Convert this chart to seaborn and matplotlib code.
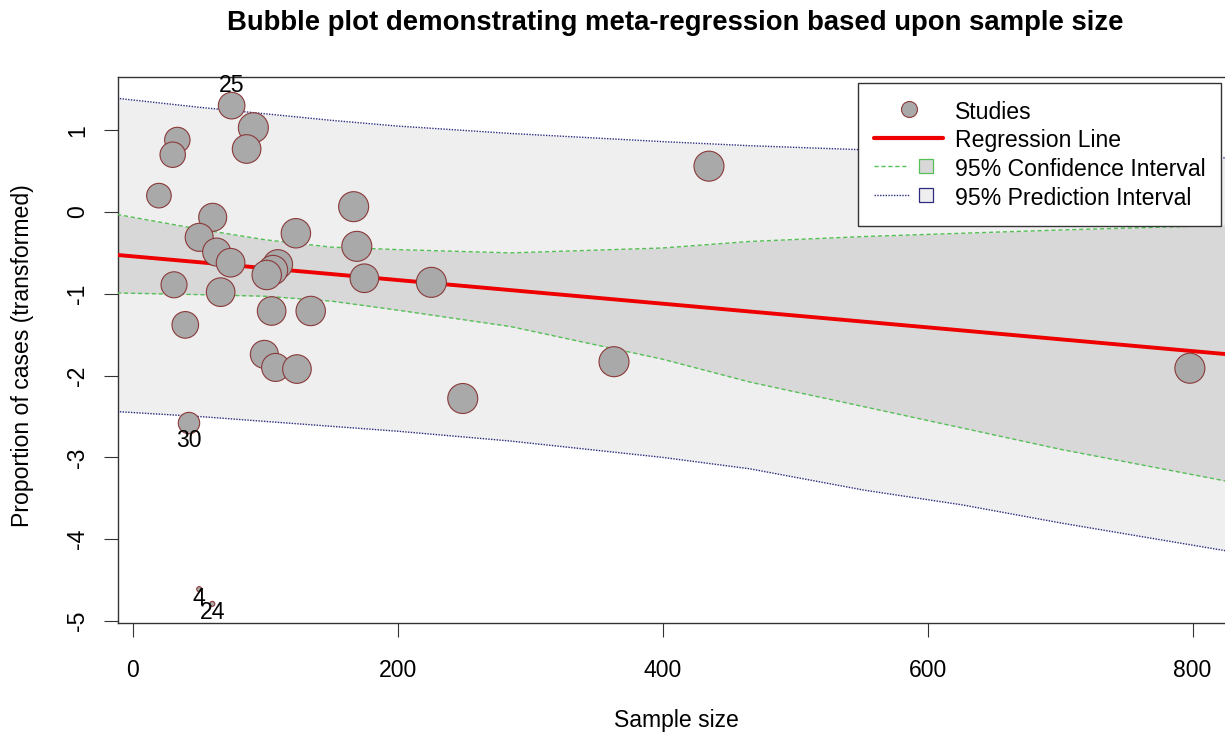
import numpy as np
import pandas as pd
import matplotlib
matplotlib.use("Agg")
import matplotlib.pyplot as plt
import seaborn as sns
from matplotlib.lines import Line2D
from matplotlib.legend_handler import HandlerTuple

# ---------------- data ----------------
sample_size = [74.5, 90.9, 85.8, 33.5, 30.0, 19.6, 60.2, 50.0, 63.2, 73.7,
               31.0, 66.2, 39.5, 123.0, 109.4, 105.7, 101.0, 104.7, 134.2, 99.2,
               107.7, 123.8, 166.6, 169.0, 174.7, 225.3, 249.0, 42.3, 434.9, 363.2,
               798.0, 50.0, 59.9]
effect = [1.30, 1.03, 0.77, 0.88, 0.70, 0.20, -0.065, -0.31, -0.49, -0.62,
          -0.89, -0.98, -1.38, -0.26, -0.64, -0.71, -0.77, -1.21, -1.21, -1.74,
          -1.90, -1.92, 0.065, -0.42, -0.81, -0.86, -2.28, -2.58, 0.56, -1.83,
          -1.91, -4.61, -4.79]
study_weight = [13.3, 15.0, 14.3, 12.7, 12.7, 12.3, 14.0, 14.0, 14.0, 14.3,
                13.0, 14.3, 13.3, 14.7, 14.7, 14.7, 14.7, 14.3, 14.7, 14.0,
                14.0, 14.3, 15.0, 15.0, 14.3, 15.0, 15.0, 10.7, 15.0, 15.0,
                15.0, 2.5, 2.5]
study_label = ["25", "", "", "", "", "", "", "", "", "",
               "", "", "", "", "", "", "", "", "", "",
               "", "", "", "", "", "", "", "30", "", "",
               "", "4", "24"]

band_x = [-12, 50, 100, 150, 200, 285, 400, 466, 552, 626, 700, 832]
reg_line = [-0.525, -0.614, -0.687, -0.759, -0.832, -0.955, -1.121, -1.217,
            -1.341, -1.448, -1.556, -1.747]
ci_upper = [-0.03, -0.21, -0.34, -0.43, -0.46, -0.50, -0.44, -0.36, -0.30,
            -0.26, -0.22, -0.16]
ci_lower = [-0.99, -1.01, -1.03, -1.09, -1.20, -1.40, -1.80, -2.08, -2.38,
            -2.64, -2.90, -3.31]
pi_upper = [1.39, 1.28, 1.20, 1.12, 1.05, 0.96, 0.86, 0.81, 0.76, 0.72, 0.70, 0.66]
pi_lower = [-2.44, -2.50, -2.56, -2.62, -2.68, -2.80, -3.00, -3.14, -3.40,
            -3.58, -3.80, -4.16]

x_ticks = [0, 200, 400, 600, 800]
y_ticks = [-5, -4, -3, -2, -1, 0, 1]

title = "Bubble plot demonstrating meta-regression based upon sample size"
x_label = "Sample size"
y_label = "Proportion of cases (transformed)"
legend_labels = ["Studies", "Regression Line", "95% Confidence Interval",
                 "95% Prediction Interval"]

# ---------------- styling ----------------
sns.set_theme(style="white")
plt.rcParams['font.family'] = ['Liberation Sans', 'DejaVu Sans']
plt.rcParams.update({"text.color": "black", "axes.labelcolor": "black",
                     "xtick.color": "#333333", "ytick.color": "#333333",
                     "xtick.labelcolor": "black", "ytick.labelcolor": "black"})

W, H = 1225, 736
FS = 16.6
fig = plt.figure(figsize=(W / 100, H / 100), dpi=100)
ax = fig.add_axes([118 / W, 1 - 623 / H, (1232 - 118) / W, (623 - 77) / H])

PI_FILL = "#efefef"
CI_FILL = "#d8d8d8"
CI_COL = "#55c055"
PI_COL = "#2c2c80"
REG_COL = "#ee0000"
BUB_FILL = "#a9a9a9"
BUB_EDGE = "#8b3a3a"

bands = pd.DataFrame({"x": band_x, "reg": reg_line, "ci_lo": ci_lower,
                      "ci_hi": ci_upper, "pi_lo": pi_lower, "pi_hi": pi_upper})

ax.fill_between(bands["x"], bands["pi_lo"], bands["pi_hi"], color=PI_FILL, lw=0, zorder=1)
ax.fill_between(bands["x"], bands["ci_lo"], bands["ci_hi"], color=CI_FILL, lw=0, zorder=2)

for col in ["pi_lo", "pi_hi"]:
    sns.lineplot(data=bands, x="x", y=col, ax=ax, color=PI_COL, lw=1.0,
                 linestyle=(0, (1, 1)), zorder=3)
for col in ["ci_lo", "ci_hi"]:
    sns.lineplot(data=bands, x="x", y=col, ax=ax, color=CI_COL, lw=1.0,
                 linestyle=(0, (3, 2)), zorder=3)
sns.lineplot(data=bands, x="x", y="reg", ax=ax, color=REG_COL, lw=2.8, zorder=4)

df = pd.DataFrame({"n": sample_size, "yi": effect, "w": study_weight,
                   "label": study_label})
px2pt = 0.72
size_map = {w: (2 * w * px2pt) ** 2 for w in set(study_weight)}
sns.scatterplot(data=df, x="n", y="yi", size="w", sizes=size_map, ax=ax,
                color=BUB_FILL, edgecolor=BUB_EDGE, linewidth=0.8, alpha=1,
                legend=False, zorder=5)

for _, r in df.iterrows():
    if r["label"]:
        above = r["label"] == "25"
        off = (r["w"] + 6.5) * px2pt * (1 if above else -1)
        ax.annotate(r["label"], (r["n"], r["yi"]), xytext=(0, off),
                    textcoords="offset points", ha="center", va="center",
                    fontsize=FS, color="black", zorder=6)

ax.set_xlim(-11.3, 829.8)
ax.set_ylim(-5.024, 1.650)
ax.set_xticks(x_ticks)
ax.set_yticks(y_ticks)
ax.set_xticklabels([str(t) for t in x_ticks])
ax.set_yticklabels([str(t) for t in y_ticks], rotation=90, va="center")
ax.tick_params(axis="both", labelsize=FS, length=10, width=0.8,
               direction="out", bottom=True, left=True)
ax.tick_params(axis="x", pad=16)
ax.tick_params(axis="y", pad=11)
for s in ax.spines.values():
    s.set_color("#333333")
    s.set_linewidth(1.0)

ax.set_xlabel(x_label, fontsize=FS, va="center")
ax.xaxis.set_label_coords((676 - 118) / (1232 - 118), -(720 - 623) / (623 - 77))
ax.set_ylabel(y_label, fontsize=FS, va="center")
ax.yaxis.set_label_coords(-(118 - 23) / (1232 - 118), (623 - 356) / (623 - 77))

fig.text(675 / W, 1 - 23 / H, title, ha="center", va="center",
         fontsize=19.8, fontweight="bold")

h_study = Line2D([], [], ls="none", marker="o", markersize=11.5,
                 markerfacecolor=BUB_FILL, markeredgecolor=BUB_EDGE, markeredgewidth=0.8)
h_reg = Line2D([], [], color=REG_COL, lw=3.0)
h_ci = (Line2D([], [], color=CI_COL, lw=1.0, ls=(0, (3, 2))),
        Line2D([], [], ls="none", marker="s", markersize=10.5,
               markerfacecolor=CI_FILL, markeredgecolor=CI_COL, markeredgewidth=0.9))
h_pi = (Line2D([], [], color=PI_COL, lw=1.0, ls=(0, (1, 1))),
        Line2D([], [], ls="none", marker="s", markersize=10.5,
               markerfacecolor=PI_FILL, markeredgecolor=PI_COL, markeredgewidth=0.9))
leg = ax.legend([h_study, h_reg, h_ci, h_pi], legend_labels,
                handler_map={tuple: HandlerTuple(ndivide=None, pad=0)},
                loc="upper right", bbox_to_anchor=(1221 / W, 1 - 83 / H),
                bbox_transform=fig.transFigure, fontsize=FS, frameon=True,
                fancybox=False, edgecolor="#333333", framealpha=1,
                borderpad=0.68, labelspacing=0.17, handlelength=3.0,
                handleheight=1.25, handletextpad=0.5, borderaxespad=0)
leg.get_frame().set_linewidth(1.0)
leg.set_zorder(10)

fig.savefig("out.png", dpi=100)
